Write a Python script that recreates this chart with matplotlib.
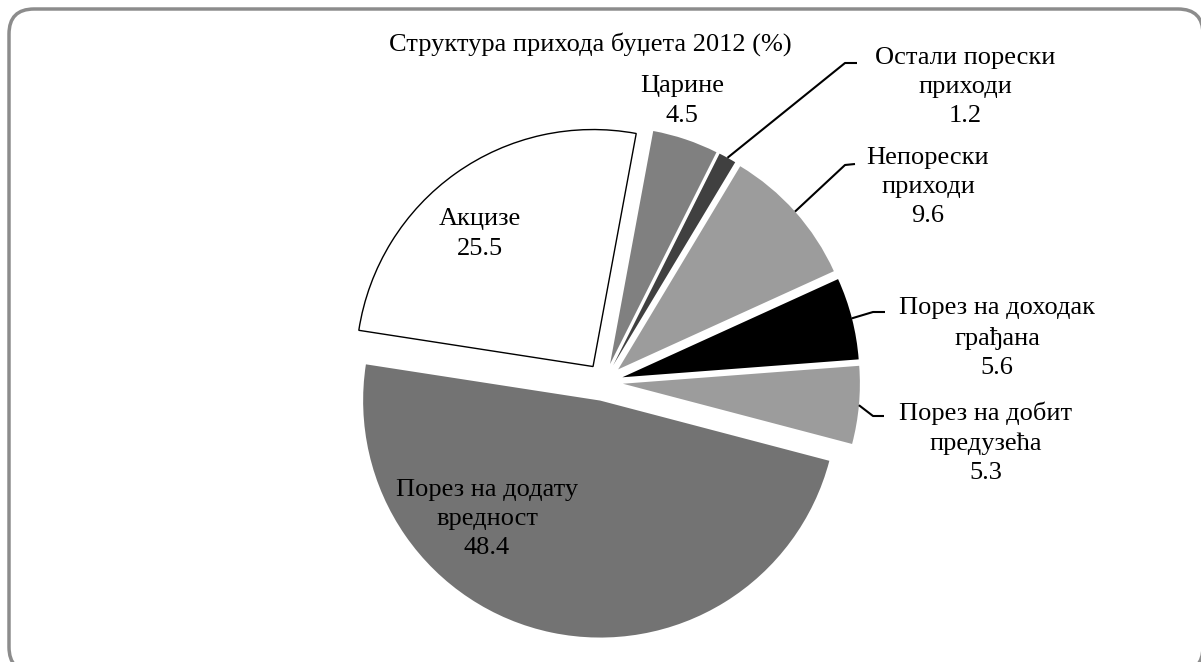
import numpy as np
import matplotlib.pyplot as plt
from matplotlib.patches import FancyBboxPatch

plt.rcParams['font.family'] = ['Liberation Serif', 'DejaVu Serif']

# data (clockwise from the top, Царине first)
names = ['Царине', 'Остали порески\nприходи', 'Непорески\nприходи',
         'Порез на доходак\nграђана', 'Порез на добит\nпредузећа',
         'Порез на додату\nвредност', 'Акцизе']
values = [4.5, 1.2, 9.6, 5.6, 5.3, 48.4, 25.5]
colors = ['#808080', '#404040', '#9c9c9c', '#000000', '#9c9c9c', '#737373', '#ffffff']
title = 'Структура прихода буџета 2012 (%)'

# layout in pixels: label centres, and leader elbow/end (None = label inside)
label_pos = [(682, 101), (965, 87), (928, 187), (997, 338), (986, 443), (487, 519), (480, 234)]
leaders = [None, [(845, 63), (857, 63)], [(845, 165), (855, 164)],
           [(873, 312), (885, 312)], [(873, 416), (884, 416)], None, None]

W, H = 1201, 662
R, cx, cy = 237.0, 604.0, 382.0


def to_data(p):
    return ((p[0] - cx) / R, (cy - p[1]) / R)


fig = plt.figure(figsize=(W / 100, H / 100), dpi=100)

bg = fig.add_axes([0, 0, 1, 1])
bg.set_xlim(0, W)
bg.set_ylim(H, 0)
bg.axis('off')
bg.add_patch(FancyBboxPatch((9, 9), 1194, 663, boxstyle='round,pad=0,rounding_size=25',
                            fc='white', ec='#8c8c8c', lw=2.5))

ax = fig.add_axes([0, 0, 1, 1])
ax.patch.set_alpha(0)
wedges, _ = ax.pie(values, colors=colors, explode=[0.08] * len(values), startangle=79.5,
                   counterclock=False, wedgeprops=dict(linewidth=0))
wedges[-1].set_edgecolor('black')
wedges[-1].set_linewidth(1.0)
ax.set_xlim(-cx / R, (W - cx) / R)
ax.set_ylim(-(H - cy) / R, cy / R)

for w, name, val, pos, lead in zip(wedges, names, values, label_pos, leaders):
    tx, ty = to_data(pos)
    ax.text(tx, ty, f'{name}\n{val}', ha='center', va='center', fontsize=19,
            linespacing=1.42, color='black')
    if lead is not None:
        mid = np.deg2rad((w.theta1 + w.theta2) / 2)
        x0 = w.center[0] + w.r * np.cos(mid)
        y0 = w.center[1] + w.r * np.sin(mid)
        pts = [(x0, y0)] + [to_data(p) for p in lead]
        ax.plot([p[0] for p in pts], [p[1] for p in pts], color='black', lw=1.5,
                solid_capstyle='butt')

tx, ty = to_data((590, 44))
ax.text(tx, ty, title, ha='center', va='center', fontsize=19)

fig.savefig('out.png', dpi=100)
